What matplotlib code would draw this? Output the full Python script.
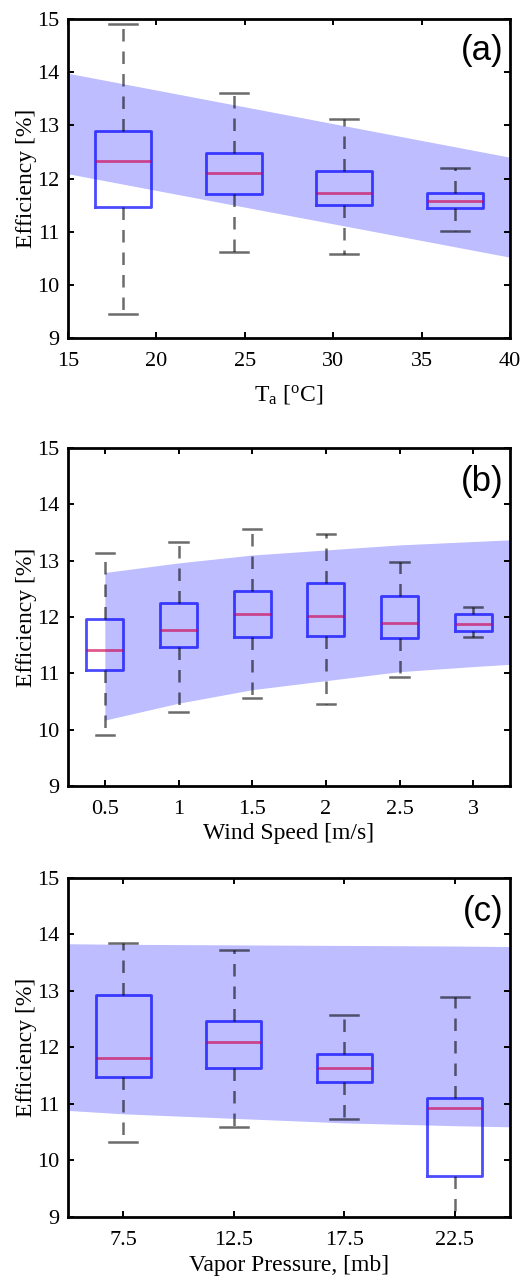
import numpy as np
import matplotlib
matplotlib.use('Agg')
import matplotlib.pyplot as plt

plt.rcParams['font.family'] = 'Liberation Serif'
plt.rcParams['mathtext.fontset'] = 'custom'
plt.rcParams['mathtext.rm'] = 'Liberation Serif'
plt.rcParams['mathtext.it'] = 'Liberation Serif:italic'

# ---- (a) air temperature ----
ta_pos = [18.125, 24.375, 30.625, 36.875]
ta_med = [12.33, 12.10, 11.73, 11.57]
ta_q1 = [11.47, 11.71, 11.50, 11.44]
ta_q3 = [12.90, 12.48, 12.15, 11.73]
ta_lo = [9.45, 10.62, 10.58, 11.01]
ta_hi = [14.90, 13.60, 13.12, 12.20]
ta_band_x = [15, 40]
ta_band_hi = [13.98, 12.40]
ta_band_lo = [12.09, 10.52]

# ---- (b) wind speed ----
ws_pos = [0.5, 1.0, 1.5, 2.0, 2.5, 3.0]
ws_med = [11.41, 11.77, 12.06, 12.01, 11.89, 11.87]
ws_q1 = [11.06, 11.46, 11.65, 11.67, 11.62, 11.76]
ws_q3 = [11.96, 12.24, 12.47, 12.61, 12.37, 12.06]
ws_lo = [9.90, 10.32, 10.57, 10.45, 10.93, 11.64]
ws_hi = [13.14, 13.34, 13.56, 13.48, 12.97, 12.18]
ws_band_x = [0.5, 1.0, 1.5, 2.0, 2.5, 3.0, 3.25]
ws_band_hi = [12.79, 12.96, 13.10, 13.19, 13.28, 13.34, 13.37]
ws_band_lo = [10.17, 10.47, 10.71, 10.87, 11.03, 11.12, 11.16]

# ---- (c) vapor pressure ----
vp_pos = [7.5, 12.5, 17.5, 22.5]
vp_med = [11.81, 12.09, 11.63, 10.92]
vp_q1 = [11.47, 11.63, 11.39, 9.72]
vp_q3 = [12.92, 12.47, 11.87, 11.10]
vp_lo = [10.33, 10.59, 10.72, 8.70]
vp_hi = [13.85, 13.72, 12.57, 12.88]
vp_band_x = [5, 7.5, 12.5, 17.5, 22.5, 25]
vp_band_hi = [13.83, 13.82, 13.81, 13.80, 13.79, 13.78]
vp_band_lo = [10.88, 10.82, 10.74, 10.66, 10.61, 10.59]


def panel(ax, pos, med, q1, q3, lo, hi, bx, bhi, blo, width, letter):
    # banda de incerteza por baixo das caixas
    ax.fill_between(bx, blo, bhi, color='blue', alpha=0.26, lw=0, zorder=1)
    stats = []
    for m, a, b, l, h in zip(med, q1, q3, lo, hi):
        stats.append({'med': m, 'q1': a, 'q3': b, 'whislo': l, 'whishi': h, 'fliers': []})
    ax.bxp(stats, positions=pos, widths=width, showfliers=False,
           manage_ticks=False, zorder=2,
           boxprops=dict(color='blue', lw=2.0, alpha=0.7),
           medianprops=dict(color='#d0004f', lw=2.0, alpha=0.65),
           whiskerprops=dict(color='black', lw=1.8, alpha=0.58, linestyle=(0, (5, 4))),
           capprops=dict(color='black', lw=1.8, alpha=0.58))
    ax.set_ylim(9, 15)
    ax.set_yticks(range(9, 16))
    ax.set_ylabel('Efficiency [%]', fontsize=17, labelpad=0)
    ax.tick_params(direction='in', top=True, right=True, labelsize=16,
                   length=4, width=1.4)
    ax.tick_params(axis='y', pad=6)
    ax.tick_params(axis='x', pad=10)
    for s in ax.spines.values():
        s.set_linewidth(2.0)
    ax.text(0.985, 0.9, letter, transform=ax.transAxes, ha='right', va='center',
            fontsize=25, family='Liberation Sans')


fig = plt.figure(figsize=(5.25, 12.76), dpi=100)

ax1 = fig.add_axes([0.1295, 0.7351, 0.842, 0.25])
panel(ax1, ta_pos, ta_med, ta_q1, ta_q3, ta_lo, ta_hi,
      ta_band_x, ta_band_hi, ta_band_lo, 3.15, '(a)')
ax1.set_xlim(15, 40)
ax1.set_xticks([15, 20, 25, 30, 35, 40])
ax1.set_xlabel(r'T$_{\mathrm{a}}$ [$^{\mathrm{o}}$C]', fontsize=17, labelpad=9)

ax2 = fig.add_axes([0.1295, 0.384, 0.842, 0.2649])
panel(ax2, ws_pos, ws_med, ws_q1, ws_q3, ws_lo, ws_hi,
      ws_band_x, ws_band_hi, ws_band_lo, 0.25, '(b)')
ax2.set_xlim(0.25, 3.25)
ax2.set_xticks(ws_pos)
ax2.set_xticklabels(['0.5', '1', '1.5', '2', '2.5', '3'])
ax2.set_xlabel('Wind Speed [m/s]', fontsize=17, labelpad=3)

ax3 = fig.add_axes([0.1295, 0.0465, 0.842, 0.2657])
panel(ax3, vp_pos, vp_med, vp_q1, vp_q3, vp_lo, vp_hi,
      vp_band_x, vp_band_hi, vp_band_lo, 2.5, '(c)')
ax3.set_xlim(5, 25)
ax3.set_xticks(vp_pos)
ax3.set_xticklabels(['7.5', '12.5', '17.5', '22.5'])
ax3.set_xlabel('Vapor Pressure, [mb]', fontsize=17, labelpad=4)

fig.savefig('out.png', dpi=100)
